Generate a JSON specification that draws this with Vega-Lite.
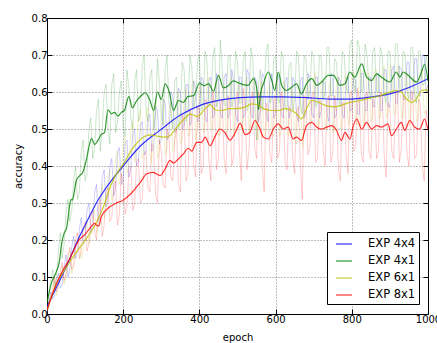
{
  "$schema": "https://vega.github.io/schema/vega-lite/v6.json",
  "width": 381,
  "height": 296,
  "autosize": {"type": "none"},
  "padding": {"left": 47, "top": 18, "right": 9, "bottom": 29},
  "background": "#ffffff",
  "config": {
    "font": "DejaVu Sans",
    "view": {"stroke": "#000000", "strokeWidth": 1}
  },
  "datasets": {
    "raw": [
      {"epoch":0,"EXP 4x4":0.0,"EXP 4x1":0.02,"EXP 6x1":0.0,"EXP 8x1":0.01},
      {"epoch":10,"EXP 4x4":0.06,"EXP 4x1":0.09,"EXP 6x1":0.05,"EXP 8x1":0.05},
      {"epoch":20,"EXP 4x4":0.05,"EXP 4x1":0.07,"EXP 6x1":0.09,"EXP 8x1":0.1},
      {"epoch":30,"EXP 4x4":0.11,"EXP 4x1":0.17,"EXP 6x1":0.07,"EXP 8x1":0.08},
      {"epoch":40,"EXP 4x4":0.08,"EXP 4x1":0.15,"EXP 6x1":0.13,"EXP 8x1":0.14},
      {"epoch":50,"EXP 4x4":0.16,"EXP 4x1":0.27,"EXP 6x1":0.1,"EXP 8x1":0.11},
      {"epoch":60,"EXP 4x4":0.12,"EXP 4x1":0.25,"EXP 6x1":0.17,"EXP 8x1":0.18},
      {"epoch":70,"EXP 4x4":0.21,"EXP 4x1":0.36,"EXP 6x1":0.13,"EXP 8x1":0.13},
      {"epoch":80,"EXP 4x4":0.17,"EXP 4x1":0.31,"EXP 6x1":0.2,"EXP 8x1":0.22},
      {"epoch":90,"EXP 4x4":0.26,"EXP 4x1":0.44,"EXP 6x1":0.15,"EXP 8x1":0.17},
      {"epoch":100,"EXP 4x4":0.2,"EXP 4x1":0.36,"EXP 6x1":0.23,"EXP 8x1":0.25},
      {"epoch":110,"EXP 4x4":0.3,"EXP 4x1":0.5,"EXP 6x1":0.19,"EXP 8x1":0.19},
      {"epoch":120,"EXP 4x4":0.24,"EXP 4x1":0.42,"EXP 6x1":0.27,"EXP 8x1":0.28},
      {"epoch":130,"EXP 4x4":0.35,"EXP 4x1":0.55,"EXP 6x1":0.22,"EXP 8x1":0.2},
      {"epoch":140,"EXP 4x4":0.27,"EXP 4x1":0.44,"EXP 6x1":0.32,"EXP 8x1":0.31},
      {"epoch":150,"EXP 4x4":0.39,"EXP 4x1":0.6,"EXP 6x1":0.26,"EXP 8x1":0.24},
      {"epoch":160,"EXP 4x4":0.31,"EXP 4x1":0.5,"EXP 6x1":0.37,"EXP 8x1":0.34},
      {"epoch":170,"EXP 4x4":0.42,"EXP 4x1":0.62,"EXP 6x1":0.31,"EXP 8x1":0.26},
      {"epoch":180,"EXP 4x4":0.34,"EXP 4x1":0.49,"EXP 6x1":0.42,"EXP 8x1":0.36},
      {"epoch":190,"EXP 4x4":0.45,"EXP 4x1":0.6,"EXP 6x1":0.35,"EXP 8x1":0.27},
      {"epoch":200,"EXP 4x4":0.36,"EXP 4x1":0.51,"EXP 6x1":0.46,"EXP 8x1":0.35},
      {"epoch":210,"EXP 4x4":0.47,"EXP 4x1":0.66,"EXP 6x1":0.38,"EXP 8x1":0.29},
      {"epoch":220,"EXP 4x4":0.39,"EXP 4x1":0.53,"EXP 6x1":0.5,"EXP 8x1":0.4},
      {"epoch":230,"EXP 4x4":0.5,"EXP 4x1":0.63,"EXP 6x1":0.41,"EXP 8x1":0.3},
      {"epoch":240,"EXP 4x4":0.41,"EXP 4x1":0.52,"EXP 6x1":0.53,"EXP 8x1":0.42},
      {"epoch":250,"EXP 4x4":0.52,"EXP 4x1":0.67,"EXP 6x1":0.42,"EXP 8x1":0.31},
      {"epoch":260,"EXP 4x4":0.44,"EXP 4x1":0.55,"EXP 6x1":0.54,"EXP 8x1":0.44},
      {"epoch":270,"EXP 4x4":0.54,"EXP 4x1":0.64,"EXP 6x1":0.43,"EXP 8x1":0.33},
      {"epoch":280,"EXP 4x4":0.45,"EXP 4x1":0.5,"EXP 6x1":0.55,"EXP 8x1":0.45},
      {"epoch":290,"EXP 4x4":0.55,"EXP 4x1":0.69,"EXP 6x1":0.42,"EXP 8x1":0.3},
      {"epoch":300,"EXP 4x4":0.47,"EXP 4x1":0.54,"EXP 6x1":0.54,"EXP 8x1":0.44},
      {"epoch":310,"EXP 4x4":0.57,"EXP 4x1":0.66,"EXP 6x1":0.43,"EXP 8x1":0.34},
      {"epoch":320,"EXP 4x4":0.48,"EXP 4x1":0.57,"EXP 6x1":0.55,"EXP 8x1":0.48},
      {"epoch":330,"EXP 4x4":0.59,"EXP 4x1":0.5,"EXP 6x1":0.44,"EXP 8x1":0.36},
      {"epoch":340,"EXP 4x4":0.5,"EXP 4x1":0.64,"EXP 6x1":0.58,"EXP 8x1":0.5},
      {"epoch":350,"EXP 4x4":0.6,"EXP 4x1":0.53,"EXP 6x1":0.46,"EXP 8x1":0.33},
      {"epoch":360,"EXP 4x4":0.51,"EXP 4x1":0.66,"EXP 6x1":0.6,"EXP 8x1":0.52},
      {"epoch":370,"EXP 4x4":0.62,"EXP 4x1":0.55,"EXP 6x1":0.48,"EXP 8x1":0.38},
      {"epoch":380,"EXP 4x4":0.52,"EXP 4x1":0.67,"EXP 6x1":0.62,"EXP 8x1":0.53},
      {"epoch":390,"EXP 4x4":0.61,"EXP 4x1":0.58,"EXP 6x1":0.47,"EXP 8x1":0.37},
      {"epoch":400,"EXP 4x4":0.53,"EXP 4x1":0.7,"EXP 6x1":0.61,"EXP 8x1":0.55},
      {"epoch":410,"EXP 4x4":0.63,"EXP 4x1":0.56,"EXP 6x1":0.49,"EXP 8x1":0.4},
      {"epoch":420,"EXP 4x4":0.52,"EXP 4x1":0.68,"EXP 6x1":0.63,"EXP 8x1":0.57},
      {"epoch":430,"EXP 4x4":0.64,"EXP 4x1":0.57,"EXP 6x1":0.5,"EXP 8x1":0.36},
      {"epoch":440,"EXP 4x4":0.54,"EXP 4x1":0.72,"EXP 6x1":0.62,"EXP 8x1":0.56},
      {"epoch":450,"EXP 4x4":0.63,"EXP 4x1":0.58,"EXP 6x1":0.48,"EXP 8x1":0.42},
      {"epoch":460,"EXP 4x4":0.53,"EXP 4x1":0.66,"EXP 6x1":0.61,"EXP 8x1":0.58},
      {"epoch":470,"EXP 4x4":0.65,"EXP 4x1":0.56,"EXP 6x1":0.49,"EXP 8x1":0.38},
      {"epoch":480,"EXP 4x4":0.54,"EXP 4x1":0.7,"EXP 6x1":0.63,"EXP 8x1":0.57},
      {"epoch":490,"EXP 4x4":0.63,"EXP 4x1":0.58,"EXP 6x1":0.48,"EXP 8x1":0.43},
      {"epoch":500,"EXP 4x4":0.52,"EXP 4x1":0.68,"EXP 6x1":0.62,"EXP 8x1":0.6},
      {"epoch":510,"EXP 4x4":0.64,"EXP 4x1":0.57,"EXP 6x1":0.5,"EXP 8x1":0.36},
      {"epoch":520,"EXP 4x4":0.54,"EXP 4x1":0.71,"EXP 6x1":0.63,"EXP 8x1":0.57},
      {"epoch":530,"EXP 4x4":0.65,"EXP 4x1":0.56,"EXP 6x1":0.49,"EXP 8x1":0.44},
      {"epoch":540,"EXP 4x4":0.53,"EXP 4x1":0.69,"EXP 6x1":0.64,"EXP 8x1":0.6},
      {"epoch":550,"EXP 4x4":0.63,"EXP 4x1":0.47,"EXP 6x1":0.5,"EXP 8x1":0.42},
      {"epoch":560,"EXP 4x4":0.55,"EXP 4x1":0.66,"EXP 6x1":0.62,"EXP 8x1":0.58},
      {"epoch":570,"EXP 4x4":0.64,"EXP 4x1":0.6,"EXP 6x1":0.48,"EXP 8x1":0.33},
      {"epoch":580,"EXP 4x4":0.52,"EXP 4x1":0.73,"EXP 6x1":0.61,"EXP 8x1":0.56},
      {"epoch":590,"EXP 4x4":0.65,"EXP 4x1":0.58,"EXP 6x1":0.49,"EXP 8x1":0.41},
      {"epoch":600,"EXP 4x4":0.54,"EXP 4x1":0.7,"EXP 6x1":0.62,"EXP 8x1":0.59},
      {"epoch":610,"EXP 4x4":0.63,"EXP 4x1":0.57,"EXP 6x1":0.48,"EXP 8x1":0.44},
      {"epoch":620,"EXP 4x4":0.53,"EXP 4x1":0.69,"EXP 6x1":0.63,"EXP 8x1":0.57},
      {"epoch":630,"EXP 4x4":0.64,"EXP 4x1":0.55,"EXP 6x1":0.49,"EXP 8x1":0.39},
      {"epoch":640,"EXP 4x4":0.55,"EXP 4x1":0.68,"EXP 6x1":0.61,"EXP 8x1":0.55},
      {"epoch":650,"EXP 4x4":0.63,"EXP 4x1":0.58,"EXP 6x1":0.47,"EXP 8x1":0.38},
      {"epoch":660,"EXP 4x4":0.52,"EXP 4x1":0.7,"EXP 6x1":0.6,"EXP 8x1":0.56},
      {"epoch":670,"EXP 4x4":0.64,"EXP 4x1":0.54,"EXP 6x1":0.45,"EXP 8x1":0.31},
      {"epoch":680,"EXP 4x4":0.54,"EXP 4x1":0.69,"EXP 6x1":0.62,"EXP 8x1":0.58},
      {"epoch":690,"EXP 4x4":0.63,"EXP 4x1":0.6,"EXP 6x1":0.51,"EXP 8x1":0.45},
      {"epoch":700,"EXP 4x4":0.53,"EXP 4x1":0.7,"EXP 6x1":0.64,"EXP 8x1":0.6},
      {"epoch":710,"EXP 4x4":0.64,"EXP 4x1":0.57,"EXP 6x1":0.5,"EXP 8x1":0.42},
      {"epoch":720,"EXP 4x4":0.55,"EXP 4x1":0.69,"EXP 6x1":0.63,"EXP 8x1":0.57},
      {"epoch":730,"EXP 4x4":0.62,"EXP 4x1":0.6,"EXP 6x1":0.5,"EXP 8x1":0.4},
      {"epoch":740,"EXP 4x4":0.52,"EXP 4x1":0.72,"EXP 6x1":0.62,"EXP 8x1":0.59},
      {"epoch":750,"EXP 4x4":0.64,"EXP 4x1":0.59,"EXP 6x1":0.49,"EXP 8x1":0.43},
      {"epoch":760,"EXP 4x4":0.54,"EXP 4x1":0.68,"EXP 6x1":0.63,"EXP 8x1":0.55},
      {"epoch":770,"EXP 4x4":0.63,"EXP 4x1":0.56,"EXP 6x1":0.5,"EXP 8x1":0.36},
      {"epoch":780,"EXP 4x4":0.53,"EXP 4x1":0.7,"EXP 6x1":0.64,"EXP 8x1":0.57},
      {"epoch":790,"EXP 4x4":0.64,"EXP 4x1":0.6,"EXP 6x1":0.51,"EXP 8x1":0.38},
      {"epoch":800,"EXP 4x4":0.55,"EXP 4x1":0.74,"EXP 6x1":0.64,"EXP 8x1":0.6},
      {"epoch":810,"EXP 4x4":0.63,"EXP 4x1":0.6,"EXP 6x1":0.52,"EXP 8x1":0.45},
      {"epoch":820,"EXP 4x4":0.54,"EXP 4x1":0.72,"EXP 6x1":0.65,"EXP 8x1":0.58},
      {"epoch":830,"EXP 4x4":0.65,"EXP 4x1":0.61,"EXP 6x1":0.51,"EXP 8x1":0.41},
      {"epoch":840,"EXP 4x4":0.55,"EXP 4x1":0.7,"EXP 6x1":0.65,"EXP 8x1":0.6},
      {"epoch":850,"EXP 4x4":0.64,"EXP 4x1":0.58,"EXP 6x1":0.52,"EXP 8x1":0.42},
      {"epoch":860,"EXP 4x4":0.56,"EXP 4x1":0.72,"EXP 6x1":0.66,"EXP 8x1":0.57},
      {"epoch":870,"EXP 4x4":0.65,"EXP 4x1":0.6,"EXP 6x1":0.53,"EXP 8x1":0.44},
      {"epoch":880,"EXP 4x4":0.55,"EXP 4x1":0.7,"EXP 6x1":0.66,"EXP 8x1":0.59},
      {"epoch":890,"EXP 4x4":0.66,"EXP 4x1":0.57,"EXP 6x1":0.53,"EXP 8x1":0.37},
      {"epoch":900,"EXP 4x4":0.56,"EXP 4x1":0.71,"EXP 6x1":0.67,"EXP 8x1":0.56},
      {"epoch":910,"EXP 4x4":0.67,"EXP 4x1":0.6,"EXP 6x1":0.54,"EXP 8x1":0.42},
      {"epoch":920,"EXP 4x4":0.57,"EXP 4x1":0.73,"EXP 6x1":0.67,"EXP 8x1":0.6},
      {"epoch":930,"EXP 4x4":0.66,"EXP 4x1":0.6,"EXP 6x1":0.53,"EXP 8x1":0.45},
      {"epoch":940,"EXP 4x4":0.58,"EXP 4x1":0.7,"EXP 6x1":0.65,"EXP 8x1":0.58},
      {"epoch":950,"EXP 4x4":0.68,"EXP 4x1":0.58,"EXP 6x1":0.51,"EXP 8x1":0.4},
      {"epoch":960,"EXP 4x4":0.58,"EXP 4x1":0.72,"EXP 6x1":0.64,"EXP 8x1":0.6},
      {"epoch":970,"EXP 4x4":0.69,"EXP 4x1":0.57,"EXP 6x1":0.52,"EXP 8x1":0.43},
      {"epoch":980,"EXP 4x4":0.59,"EXP 4x1":0.71,"EXP 6x1":0.66,"EXP 8x1":0.57},
      {"epoch":990,"EXP 4x4":0.7,"EXP 4x1":0.62,"EXP 6x1":0.54,"EXP 8x1":0.36},
      {"epoch":1000,"EXP 4x4":0.62,"EXP 4x1":0.66,"EXP 6x1":0.63,"EXP 8x1":0.52},
      {"epoch":5,"EXP 4x4":0.03,"EXP 4x1":0.05,"EXP 6x1":0.03,"EXP 8x1":0.03},
      {"epoch":15,"EXP 4x4":0.04,"EXP 4x1":0.12,"EXP 6x1":0.06,"EXP 8x1":0.07},
      {"epoch":25,"EXP 4x4":0.09,"EXP 4x1":0.1,"EXP 6x1":0.05,"EXP 8x1":0.06},
      {"epoch":35,"EXP 4x4":0.07,"EXP 4x1":0.22,"EXP 6x1":0.11,"EXP 8x1":0.12},
      {"epoch":45,"EXP 4x4":0.13,"EXP 4x1":0.19,"EXP 6x1":0.08,"EXP 8x1":0.09},
      {"epoch":55,"EXP 4x4":0.1,"EXP 4x1":0.31,"EXP 6x1":0.15,"EXP 8x1":0.16},
      {"epoch":65,"EXP 4x4":0.18,"EXP 4x1":0.28,"EXP 6x1":0.11,"EXP 8x1":0.12},
      {"epoch":75,"EXP 4x4":0.15,"EXP 4x1":0.4,"EXP 6x1":0.18,"EXP 8x1":0.2},
      {"epoch":85,"EXP 4x4":0.23,"EXP 4x1":0.33,"EXP 6x1":0.21,"EXP 8x1":0.15},
      {"epoch":95,"EXP 4x4":0.19,"EXP 4x1":0.47,"EXP 6x1":0.17,"EXP 8x1":0.23},
      {"epoch":105,"EXP 4x4":0.28,"EXP 4x1":0.38,"EXP 6x1":0.25,"EXP 8x1":0.17},
      {"epoch":115,"EXP 4x4":0.22,"EXP 4x1":0.53,"EXP 6x1":0.21,"EXP 8x1":0.26},
      {"epoch":125,"EXP 4x4":0.33,"EXP 4x1":0.45,"EXP 6x1":0.28,"EXP 8x1":0.22},
      {"epoch":135,"EXP 4x4":0.25,"EXP 4x1":0.58,"EXP 6x1":0.24,"EXP 8x1":0.29},
      {"epoch":145,"EXP 4x4":0.37,"EXP 4x1":0.5,"EXP 6x1":0.35,"EXP 8x1":0.21},
      {"epoch":155,"EXP 4x4":0.29,"EXP 4x1":0.62,"EXP 6x1":0.29,"EXP 8x1":0.33},
      {"epoch":165,"EXP 4x4":0.4,"EXP 4x1":0.46,"EXP 6x1":0.39,"EXP 8x1":0.25},
      {"epoch":175,"EXP 4x4":0.32,"EXP 4x1":0.65,"EXP 6x1":0.33,"EXP 8x1":0.34},
      {"epoch":185,"EXP 4x4":0.44,"EXP 4x1":0.52,"EXP 6x1":0.44,"EXP 8x1":0.24},
      {"epoch":195,"EXP 4x4":0.35,"EXP 4x1":0.63,"EXP 6x1":0.37,"EXP 8x1":0.38},
      {"epoch":205,"EXP 4x4":0.46,"EXP 4x1":0.48,"EXP 6x1":0.48,"EXP 8x1":0.27},
      {"epoch":215,"EXP 4x4":0.37,"EXP 4x1":0.61,"EXP 6x1":0.4,"EXP 8x1":0.39},
      {"epoch":225,"EXP 4x4":0.49,"EXP 4x1":0.5,"EXP 6x1":0.52,"EXP 8x1":0.28},
      {"epoch":235,"EXP 4x4":0.4,"EXP 4x1":0.66,"EXP 6x1":0.43,"EXP 8x1":0.41},
      {"epoch":245,"EXP 4x4":0.51,"EXP 4x1":0.54,"EXP 6x1":0.55,"EXP 8x1":0.3},
      {"epoch":255,"EXP 4x4":0.43,"EXP 4x1":0.7,"EXP 6x1":0.44,"EXP 8x1":0.43},
      {"epoch":265,"EXP 4x4":0.53,"EXP 4x1":0.52,"EXP 6x1":0.56,"EXP 8x1":0.34},
      {"epoch":275,"EXP 4x4":0.44,"EXP 4x1":0.66,"EXP 6x1":0.41,"EXP 8x1":0.46},
      {"epoch":285,"EXP 4x4":0.56,"EXP 4x1":0.55,"EXP 6x1":0.57,"EXP 8x1":0.32},
      {"epoch":295,"EXP 4x4":0.46,"EXP 4x1":0.62,"EXP 6x1":0.44,"EXP 8x1":0.47},
      {"epoch":305,"EXP 4x4":0.58,"EXP 4x1":0.51,"EXP 6x1":0.58,"EXP 8x1":0.35},
      {"epoch":315,"EXP 4x4":0.47,"EXP 4x1":0.7,"EXP 6x1":0.45,"EXP 8x1":0.5},
      {"epoch":325,"EXP 4x4":0.6,"EXP 4x1":0.55,"EXP 6x1":0.57,"EXP 8x1":0.37},
      {"epoch":335,"EXP 4x4":0.49,"EXP 4x1":0.63,"EXP 6x1":0.46,"EXP 8x1":0.47},
      {"epoch":345,"EXP 4x4":0.61,"EXP 4x1":0.5,"EXP 6x1":0.6,"EXP 8x1":0.35},
      {"epoch":355,"EXP 4x4":0.5,"EXP 4x1":0.68,"EXP 6x1":0.47,"EXP 8x1":0.54},
      {"epoch":365,"EXP 4x4":0.62,"EXP 4x1":0.52,"EXP 6x1":0.61,"EXP 8x1":0.36},
      {"epoch":375,"EXP 4x4":0.51,"EXP 4x1":0.7,"EXP 6x1":0.49,"EXP 8x1":0.55},
      {"epoch":385,"EXP 4x4":0.63,"EXP 4x1":0.56,"EXP 6x1":0.63,"EXP 8x1":0.4},
      {"epoch":395,"EXP 4x4":0.52,"EXP 4x1":0.68,"EXP 6x1":0.5,"EXP 8x1":0.56},
      {"epoch":405,"EXP 4x4":0.64,"EXP 4x1":0.55,"EXP 6x1":0.62,"EXP 8x1":0.38},
      {"epoch":415,"EXP 4x4":0.53,"EXP 4x1":0.71,"EXP 6x1":0.51,"EXP 8x1":0.58},
      {"epoch":425,"EXP 4x4":0.63,"EXP 4x1":0.56,"EXP 6x1":0.64,"EXP 8x1":0.41},
      {"epoch":435,"EXP 4x4":0.53,"EXP 4x1":0.69,"EXP 6x1":0.5,"EXP 8x1":0.6},
      {"epoch":445,"EXP 4x4":0.65,"EXP 4x1":0.56,"EXP 6x1":0.63,"EXP 8x1":0.39},
      {"epoch":455,"EXP 4x4":0.54,"EXP 4x1":0.74,"EXP 6x1":0.49,"EXP 8x1":0.57},
      {"epoch":465,"EXP 4x4":0.64,"EXP 4x1":0.57,"EXP 6x1":0.62,"EXP 8x1":0.42},
      {"epoch":475,"EXP 4x4":0.53,"EXP 4x1":0.69,"EXP 6x1":0.5,"EXP 8x1":0.59},
      {"epoch":485,"EXP 4x4":0.66,"EXP 4x1":0.56,"EXP 6x1":0.64,"EXP 8x1":0.4},
      {"epoch":495,"EXP 4x4":0.54,"EXP 4x1":0.71,"EXP 6x1":0.49,"EXP 8x1":0.58},
      {"epoch":505,"EXP 4x4":0.64,"EXP 4x1":0.57,"EXP 6x1":0.63,"EXP 8x1":0.44},
      {"epoch":515,"EXP 4x4":0.53,"EXP 4x1":0.68,"EXP 6x1":0.5,"EXP 8x1":0.61},
      {"epoch":525,"EXP 4x4":0.66,"EXP 4x1":0.55,"EXP 6x1":0.64,"EXP 8x1":0.39},
      {"epoch":535,"EXP 4x4":0.54,"EXP 4x1":0.72,"EXP 6x1":0.5,"EXP 8x1":0.58},
      {"epoch":545,"EXP 4x4":0.64,"EXP 4x1":0.57,"EXP 6x1":0.63,"EXP 8x1":0.45},
      {"epoch":555,"EXP 4x4":0.52,"EXP 4x1":0.62,"EXP 6x1":0.47,"EXP 8x1":0.6},
      {"epoch":565,"EXP 4x4":0.65,"EXP 4x1":0.55,"EXP 6x1":0.63,"EXP 8x1":0.4},
      {"epoch":575,"EXP 4x4":0.54,"EXP 4x1":0.71,"EXP 6x1":0.49,"EXP 8x1":0.57},
      {"epoch":585,"EXP 4x4":0.63,"EXP 4x1":0.57,"EXP 6x1":0.62,"EXP 8x1":0.43},
      {"epoch":595,"EXP 4x4":0.53,"EXP 4x1":0.69,"EXP 6x1":0.48,"EXP 8x1":0.58},
      {"epoch":605,"EXP 4x4":0.65,"EXP 4x1":0.58,"EXP 6x1":0.64,"EXP 8x1":0.42},
      {"epoch":615,"EXP 4x4":0.54,"EXP 4x1":0.71,"EXP 6x1":0.49,"EXP 8x1":0.6},
      {"epoch":625,"EXP 4x4":0.63,"EXP 4x1":0.56,"EXP 6x1":0.62,"EXP 8x1":0.41},
      {"epoch":635,"EXP 4x4":0.53,"EXP 4x1":0.67,"EXP 6x1":0.48,"EXP 8x1":0.56},
      {"epoch":645,"EXP 4x4":0.64,"EXP 4x1":0.55,"EXP 6x1":0.6,"EXP 8x1":0.42},
      {"epoch":655,"EXP 4x4":0.54,"EXP 4x1":0.71,"EXP 6x1":0.46,"EXP 8x1":0.55},
      {"epoch":665,"EXP 4x4":0.63,"EXP 4x1":0.57,"EXP 6x1":0.59,"EXP 8x1":0.4},
      {"epoch":675,"EXP 4x4":0.53,"EXP 4x1":0.7,"EXP 6x1":0.5,"EXP 8x1":0.59},
      {"epoch":685,"EXP 4x4":0.65,"EXP 4x1":0.58,"EXP 6x1":0.64,"EXP 8x1":0.43},
      {"epoch":695,"EXP 4x4":0.54,"EXP 4x1":0.71,"EXP 6x1":0.52,"EXP 8x1":0.59},
      {"epoch":705,"EXP 4x4":0.64,"EXP 4x1":0.56,"EXP 6x1":0.65,"EXP 8x1":0.41},
      {"epoch":715,"EXP 4x4":0.53,"EXP 4x1":0.7,"EXP 6x1":0.51,"EXP 8x1":0.58},
      {"epoch":725,"EXP 4x4":0.63,"EXP 4x1":0.58,"EXP 6x1":0.63,"EXP 8x1":0.44},
      {"epoch":735,"EXP 4x4":0.54,"EXP 4x1":0.72,"EXP 6x1":0.5,"EXP 8x1":0.58},
      {"epoch":745,"EXP 4x4":0.65,"EXP 4x1":0.59,"EXP 6x1":0.63,"EXP 8x1":0.41},
      {"epoch":755,"EXP 4x4":0.53,"EXP 4x1":0.69,"EXP 6x1":0.5,"EXP 8x1":0.59},
      {"epoch":765,"EXP 4x4":0.64,"EXP 4x1":0.58,"EXP 6x1":0.64,"EXP 8x1":0.39},
      {"epoch":775,"EXP 4x4":0.54,"EXP 4x1":0.71,"EXP 6x1":0.51,"EXP 8x1":0.57},
      {"epoch":785,"EXP 4x4":0.63,"EXP 4x1":0.61,"EXP 6x1":0.64,"EXP 8x1":0.43},
      {"epoch":795,"EXP 4x4":0.55,"EXP 4x1":0.73,"EXP 6x1":0.52,"EXP 8x1":0.6},
      {"epoch":805,"EXP 4x4":0.64,"EXP 4x1":0.62,"EXP 6x1":0.65,"EXP 8x1":0.44},
      {"epoch":815,"EXP 4x4":0.54,"EXP 4x1":0.74,"EXP 6x1":0.51,"EXP 8x1":0.61},
      {"epoch":825,"EXP 4x4":0.65,"EXP 4x1":0.6,"EXP 6x1":0.66,"EXP 8x1":0.43},
      {"epoch":835,"EXP 4x4":0.55,"EXP 4x1":0.73,"EXP 6x1":0.52,"EXP 8x1":0.59},
      {"epoch":845,"EXP 4x4":0.64,"EXP 4x1":0.61,"EXP 6x1":0.65,"EXP 8x1":0.44},
      {"epoch":855,"EXP 4x4":0.56,"EXP 4x1":0.71,"EXP 6x1":0.53,"EXP 8x1":0.58},
      {"epoch":865,"EXP 4x4":0.65,"EXP 4x1":0.6,"EXP 6x1":0.66,"EXP 8x1":0.42},
      {"epoch":875,"EXP 4x4":0.55,"EXP 4x1":0.72,"EXP 6x1":0.53,"EXP 8x1":0.6},
      {"epoch":885,"EXP 4x4":0.66,"EXP 4x1":0.59,"EXP 6x1":0.67,"EXP 8x1":0.43},
      {"epoch":895,"EXP 4x4":0.56,"EXP 4x1":0.71,"EXP 6x1":0.54,"EXP 8x1":0.57},
      {"epoch":905,"EXP 4x4":0.66,"EXP 4x1":0.6,"EXP 6x1":0.67,"EXP 8x1":0.44},
      {"epoch":915,"EXP 4x4":0.57,"EXP 4x1":0.73,"EXP 6x1":0.54,"EXP 8x1":0.6},
      {"epoch":925,"EXP 4x4":0.67,"EXP 4x1":0.61,"EXP 6x1":0.66,"EXP 8x1":0.41},
      {"epoch":935,"EXP 4x4":0.58,"EXP 4x1":0.71,"EXP 6x1":0.53,"EXP 8x1":0.59},
      {"epoch":945,"EXP 4x4":0.68,"EXP 4x1":0.6,"EXP 6x1":0.65,"EXP 8x1":0.43},
      {"epoch":955,"EXP 4x4":0.58,"EXP 4x1":0.72,"EXP 6x1":0.52,"EXP 8x1":0.6},
      {"epoch":965,"EXP 4x4":0.69,"EXP 4x1":0.59,"EXP 6x1":0.64,"EXP 8x1":0.42},
      {"epoch":975,"EXP 4x4":0.59,"EXP 4x1":0.71,"EXP 6x1":0.53,"EXP 8x1":0.58},
      {"epoch":985,"EXP 4x4":0.7,"EXP 4x1":0.62,"EXP 6x1":0.66,"EXP 8x1":0.4},
      {"epoch":995,"EXP 4x4":0.6,"EXP 4x1":0.7,"EXP 6x1":0.55,"EXP 8x1":0.55}
    ],
    "smooth": [
      {"s":"EXP 4x4","e":0,"v":0.02},{"s":"EXP 4x4","e":20,"v":0.062},{"s":"EXP 4x4","e":38,"v":0.1},
      {"s":"EXP 4x4","e":60,"v":0.15},{"s":"EXP 4x4","e":81,"v":0.2},{"s":"EXP 4x4","e":100,"v":0.24},
      {"s":"EXP 4x4","e":133,"v":0.306},{"s":"EXP 4x4","e":165,"v":0.355},{"s":"EXP 4x4","e":200,"v":0.4},
      {"s":"EXP 4x4","e":245,"v":0.454},{"s":"EXP 4x4","e":297,"v":0.497},{"s":"EXP 4x4","e":349,"v":0.537},
      {"s":"EXP 4x4","e":402,"v":0.564},{"s":"EXP 4x4","e":454,"v":0.578},{"s":"EXP 4x4","e":507,"v":0.585},
      {"s":"EXP 4x4","e":560,"v":0.587},{"s":"EXP 4x4","e":620,"v":0.587},{"s":"EXP 4x4","e":680,"v":0.585},
      {"s":"EXP 4x4","e":742,"v":0.581},{"s":"EXP 4x4","e":795,"v":0.581},{"s":"EXP 4x4","e":848,"v":0.586},
      {"s":"EXP 4x4","e":900,"v":0.595},{"s":"EXP 4x4","e":952,"v":0.613},{"s":"EXP 4x4","e":1000,"v":0.636},

      {"s":"EXP 4x1","e":0,"v":0.03},{"s":"EXP 4x1","e":11,"v":0.082},{"s":"EXP 4x1","e":24,"v":0.113},
      {"s":"EXP 4x1","e":33,"v":0.145},{"s":"EXP 4x1","e":37,"v":0.18},{"s":"EXP 4x1","e":42,"v":0.208},
      {"s":"EXP 4x1","e":46,"v":0.221},{"s":"EXP 4x1","e":51,"v":0.23},{"s":"EXP 4x1","e":55,"v":0.257},
      {"s":"EXP 4x1","e":59,"v":0.29},{"s":"EXP 4x1","e":63,"v":0.31},{"s":"EXP 4x1","e":67,"v":0.308},
      {"s":"EXP 4x1","e":70,"v":0.32},{"s":"EXP 4x1","e":77,"v":0.361},{"s":"EXP 4x1","e":86,"v":0.374},
      {"s":"EXP 4x1","e":94,"v":0.383},{"s":"EXP 4x1","e":103,"v":0.415},{"s":"EXP 4x1","e":112,"v":0.46},
      {"s":"EXP 4x1","e":117,"v":0.475},{"s":"EXP 4x1","e":125,"v":0.458},{"s":"EXP 4x1","e":134,"v":0.47},
      {"s":"EXP 4x1","e":142,"v":0.485},{"s":"EXP 4x1","e":151,"v":0.49},{"s":"EXP 4x1","e":160,"v":0.552},
      {"s":"EXP 4x1","e":169,"v":0.541},{"s":"EXP 4x1","e":177,"v":0.545},{"s":"EXP 4x1","e":186,"v":0.535},
      {"s":"EXP 4x1","e":195,"v":0.545},{"s":"EXP 4x1","e":203,"v":0.55},{"s":"EXP 4x1","e":215,"v":0.588},
      {"s":"EXP 4x1","e":224,"v":0.557},{"s":"EXP 4x1","e":234,"v":0.574},{"s":"EXP 4x1","e":247,"v":0.59},
      {"s":"EXP 4x1","e":258,"v":0.598},{"s":"EXP 4x1","e":270,"v":0.578},{"s":"EXP 4x1","e":280,"v":0.55},
      {"s":"EXP 4x1","e":290,"v":0.6},{"s":"EXP 4x1","e":300,"v":0.58},{"s":"EXP 4x1","e":310,"v":0.622},
      {"s":"EXP 4x1","e":321,"v":0.6},{"s":"EXP 4x1","e":332,"v":0.55},{"s":"EXP 4x1","e":345,"v":0.577},
      {"s":"EXP 4x1","e":358,"v":0.572},{"s":"EXP 4x1","e":370,"v":0.588},{"s":"EXP 4x1","e":385,"v":0.59},
      {"s":"EXP 4x1","e":400,"v":0.624},{"s":"EXP 4x1","e":412,"v":0.617},{"s":"EXP 4x1","e":424,"v":0.622},
      {"s":"EXP 4x1","e":437,"v":0.602},{"s":"EXP 4x1","e":450,"v":0.645},{"s":"EXP 4x1","e":463,"v":0.611},
      {"s":"EXP 4x1","e":476,"v":0.617},{"s":"EXP 4x1","e":489,"v":0.63},{"s":"EXP 4x1","e":502,"v":0.625},
      {"s":"EXP 4x1","e":515,"v":0.62},{"s":"EXP 4x1","e":528,"v":0.618},{"s":"EXP 4x1","e":542,"v":0.636},
      {"s":"EXP 4x1","e":550,"v":0.613},{"s":"EXP 4x1","e":555,"v":0.552},{"s":"EXP 4x1","e":561,"v":0.6},
      {"s":"EXP 4x1","e":568,"v":0.622},{"s":"EXP 4x1","e":581,"v":0.654},{"s":"EXP 4x1","e":590,"v":0.631},
      {"s":"EXP 4x1","e":598,"v":0.604},{"s":"EXP 4x1","e":607,"v":0.654},{"s":"EXP 4x1","e":616,"v":0.618},
      {"s":"EXP 4x1","e":629,"v":0.604},{"s":"EXP 4x1","e":642,"v":0.613},{"s":"EXP 4x1","e":655,"v":0.622},
      {"s":"EXP 4x1","e":668,"v":0.595},{"s":"EXP 4x1","e":681,"v":0.622},{"s":"EXP 4x1","e":695,"v":0.636},
      {"s":"EXP 4x1","e":708,"v":0.618},{"s":"EXP 4x1","e":721,"v":0.627},{"s":"EXP 4x1","e":738,"v":0.645},
      {"s":"EXP 4x1","e":752,"v":0.645},{"s":"EXP 4x1","e":769,"v":0.618},{"s":"EXP 4x1","e":782,"v":0.622},
      {"s":"EXP 4x1","e":795,"v":0.654},{"s":"EXP 4x1","e":808,"v":0.64},{"s":"EXP 4x1","e":826,"v":0.676},
      {"s":"EXP 4x1","e":839,"v":0.64},{"s":"EXP 4x1","e":852,"v":0.631},{"s":"EXP 4x1","e":865,"v":0.649},
      {"s":"EXP 4x1","e":878,"v":0.64},{"s":"EXP 4x1","e":900,"v":0.627},{"s":"EXP 4x1","e":917,"v":0.654},
      {"s":"EXP 4x1","e":926,"v":0.64},{"s":"EXP 4x1","e":935,"v":0.654},{"s":"EXP 4x1","e":948,"v":0.645},
      {"s":"EXP 4x1","e":970,"v":0.627},{"s":"EXP 4x1","e":983,"v":0.654},{"s":"EXP 4x1","e":991,"v":0.675},
      {"s":"EXP 4x1","e":1000,"v":0.63},

      {"s":"EXP 6x1","e":0,"v":0.01},{"s":"EXP 6x1","e":24,"v":0.08},{"s":"EXP 6x1","e":51,"v":0.126},
      {"s":"EXP 6x1","e":77,"v":0.167},{"s":"EXP 6x1","e":103,"v":0.203},{"s":"EXP 6x1","e":130,"v":0.248},
      {"s":"EXP 6x1","e":150,"v":0.295},{"s":"EXP 6x1","e":166,"v":0.344},{"s":"EXP 6x1","e":188,"v":0.388},
      {"s":"EXP 6x1","e":200,"v":0.405},{"s":"EXP 6x1","e":227,"v":0.451},{"s":"EXP 6x1","e":253,"v":0.478},
      {"s":"EXP 6x1","e":271,"v":0.484},{"s":"EXP 6x1","e":293,"v":0.48},{"s":"EXP 6x1","e":310,"v":0.478},
      {"s":"EXP 6x1","e":325,"v":0.484},{"s":"EXP 6x1","e":341,"v":0.505},{"s":"EXP 6x1","e":358,"v":0.525},
      {"s":"EXP 6x1","e":376,"v":0.54},{"s":"EXP 6x1","e":395,"v":0.534},{"s":"EXP 6x1","e":415,"v":0.555},
      {"s":"EXP 6x1","e":428,"v":0.566},{"s":"EXP 6x1","e":441,"v":0.552},{"s":"EXP 6x1","e":459,"v":0.55},
      {"s":"EXP 6x1","e":476,"v":0.555},{"s":"EXP 6x1","e":494,"v":0.555},{"s":"EXP 6x1","e":520,"v":0.559},
      {"s":"EXP 6x1","e":537,"v":0.568},{"s":"EXP 6x1","e":555,"v":0.564},{"s":"EXP 6x1","e":568,"v":0.555},
      {"s":"EXP 6x1","e":590,"v":0.55},{"s":"EXP 6x1","e":607,"v":0.55},{"s":"EXP 6x1","e":625,"v":0.555},
      {"s":"EXP 6x1","e":642,"v":0.55},{"s":"EXP 6x1","e":655,"v":0.541},{"s":"EXP 6x1","e":668,"v":0.527},
      {"s":"EXP 6x1","e":681,"v":0.555},{"s":"EXP 6x1","e":695,"v":0.577},{"s":"EXP 6x1","e":712,"v":0.572},
      {"s":"EXP 6x1","e":730,"v":0.564},{"s":"EXP 6x1","e":756,"v":0.56},{"s":"EXP 6x1","e":795,"v":0.572},
      {"s":"EXP 6x1","e":821,"v":0.577},{"s":"EXP 6x1","e":848,"v":0.584},{"s":"EXP 6x1","e":874,"v":0.59},
      {"s":"EXP 6x1","e":900,"v":0.6},{"s":"EXP 6x1","e":917,"v":0.604},{"s":"EXP 6x1","e":930,"v":0.6},
      {"s":"EXP 6x1","e":943,"v":0.582},{"s":"EXP 6x1","e":957,"v":0.572},{"s":"EXP 6x1","e":970,"v":0.582},
      {"s":"EXP 6x1","e":983,"v":0.604},{"s":"EXP 6x1","e":996,"v":0.606},{"s":"EXP 6x1","e":1000,"v":0.6},

      {"s":"EXP 8x1","e":0,"v":0.01},{"s":"EXP 8x1","e":20,"v":0.07},{"s":"EXP 8x1","e":40,"v":0.115},
      {"s":"EXP 8x1","e":60,"v":0.15},{"s":"EXP 8x1","e":84,"v":0.2},{"s":"EXP 8x1","e":100,"v":0.215},
      {"s":"EXP 8x1","e":115,"v":0.235},{"s":"EXP 8x1","e":125,"v":0.245},{"s":"EXP 8x1","e":130,"v":0.24},
      {"s":"EXP 8x1","e":136,"v":0.238},{"s":"EXP 8x1","e":142,"v":0.262},{"s":"EXP 8x1","e":164,"v":0.289},
      {"s":"EXP 8x1","e":182,"v":0.3},{"s":"EXP 8x1","e":199,"v":0.307},{"s":"EXP 8x1","e":220,"v":0.325},
      {"s":"EXP 8x1","e":245,"v":0.356},{"s":"EXP 8x1","e":262,"v":0.379},{"s":"EXP 8x1","e":279,"v":0.383},
      {"s":"EXP 8x1","e":297,"v":0.374},{"s":"EXP 8x1","e":310,"v":0.392},{"s":"EXP 8x1","e":323,"v":0.415},
      {"s":"EXP 8x1","e":332,"v":0.408},{"s":"EXP 8x1","e":345,"v":0.419},{"s":"EXP 8x1","e":358,"v":0.433},
      {"s":"EXP 8x1","e":371,"v":0.448},{"s":"EXP 8x1","e":380,"v":0.44},{"s":"EXP 8x1","e":393,"v":0.464},
      {"s":"EXP 8x1","e":406,"v":0.464},{"s":"EXP 8x1","e":415,"v":0.478},{"s":"EXP 8x1","e":428,"v":0.455},
      {"s":"EXP 8x1","e":441,"v":0.48},{"s":"EXP 8x1","e":454,"v":0.5},{"s":"EXP 8x1","e":467,"v":0.49},
      {"s":"EXP 8x1","e":480,"v":0.47},{"s":"EXP 8x1","e":494,"v":0.49},{"s":"EXP 8x1","e":507,"v":0.515},
      {"s":"EXP 8x1","e":520,"v":0.485},{"s":"EXP 8x1","e":532,"v":0.49},{"s":"EXP 8x1","e":546,"v":0.523},
      {"s":"EXP 8x1","e":559,"v":0.5},{"s":"EXP 8x1","e":568,"v":0.478},{"s":"EXP 8x1","e":581,"v":0.473},
      {"s":"EXP 8x1","e":594,"v":0.5},{"s":"EXP 8x1","e":607,"v":0.514},{"s":"EXP 8x1","e":620,"v":0.5},
      {"s":"EXP 8x1","e":633,"v":0.505},{"s":"EXP 8x1","e":646,"v":0.473},{"s":"EXP 8x1","e":655,"v":0.478},
      {"s":"EXP 8x1","e":668,"v":0.469},{"s":"EXP 8x1","e":681,"v":0.509},{"s":"EXP 8x1","e":695,"v":0.518},
      {"s":"EXP 8x1","e":708,"v":0.505},{"s":"EXP 8x1","e":721,"v":0.5},{"s":"EXP 8x1","e":734,"v":0.505},
      {"s":"EXP 8x1","e":747,"v":0.509},{"s":"EXP 8x1","e":760,"v":0.496},{"s":"EXP 8x1","e":773,"v":0.469},
      {"s":"EXP 8x1","e":782,"v":0.491},{"s":"EXP 8x1","e":795,"v":0.473},{"s":"EXP 8x1","e":804,"v":0.509},
      {"s":"EXP 8x1","e":813,"v":0.527},{"s":"EXP 8x1","e":826,"v":0.5},{"s":"EXP 8x1","e":839,"v":0.518},
      {"s":"EXP 8x1","e":852,"v":0.5},{"s":"EXP 8x1","e":865,"v":0.509},{"s":"EXP 8x1","e":878,"v":0.505},
      {"s":"EXP 8x1","e":895,"v":0.514},{"s":"EXP 8x1","e":904,"v":0.482},{"s":"EXP 8x1","e":917,"v":0.5},
      {"s":"EXP 8x1","e":930,"v":0.518},{"s":"EXP 8x1","e":939,"v":0.496},{"s":"EXP 8x1","e":952,"v":0.523},
      {"s":"EXP 8x1","e":965,"v":0.505},{"s":"EXP 8x1","e":978,"v":0.5},{"s":"EXP 8x1","e":991,"v":0.527},
      {"s":"EXP 8x1","e":1000,"v":0.498}
    ]
  },
  "resolve": {
    "axis": {"x": "independent", "y": "independent"},
    "scale": {"color": "independent"}
  },
  "layer": [
    {
      "data": {"name": "raw"},
      "transform": [
        {"fold": ["EXP 4x4", "EXP 4x1", "EXP 6x1", "EXP 8x1"], "as": ["series", "acc"]}
      ],
      "mark": {"type": "line", "strokeWidth": 1, "opacity": 0.2, "clip": true},
      "encoding": {
        "x": {
          "field": "epoch", "type": "quantitative",
          "scale": {"domain": [0, 1000], "nice": false, "zero": false},
          "axis": {
            "orient": "bottom", "values": [0, 200, 400, 600, 800, 1000], "format": "d",
            "title": "epoch", "titleFontSize": 10, "titleFontWeight": "normal", "titleColor": "#000", "titlePadding": 8,
            "labelFontSize": 10, "labelColor": "#000", "labelPadding": 5, "labelFlush": false,
            "tickSize": -5, "tickColor": "#000", "domain": false,
            "grid": true, "gridColor": "#000", "gridDash": [1, 2], "gridOpacity": 0.5, "gridWidth": 1
          }
        },
        "y": {
          "field": "acc", "type": "quantitative",
          "scale": {"domain": [0, 0.8], "nice": false},
          "axis": {
            "orient": "left", "values": [0, 0.1, 0.2, 0.3, 0.4, 0.5, 0.6, 0.7, 0.8], "format": ".1f",
            "title": "accuracy", "titleFontSize": 10, "titleFontWeight": "normal", "titleColor": "#000", "titlePadding": 8,
            "labelFontSize": 10, "labelColor": "#000", "labelPadding": 5, "labelFlush": false,
            "tickSize": -5, "tickColor": "#000", "domain": false,
            "grid": true, "gridColor": "#000", "gridDash": [1, 2], "gridOpacity": 0.5, "gridWidth": 1
          }
        },
        "color": {
          "field": "series", "type": "nominal",
          "scale": {"domain": ["EXP 4x4", "EXP 4x1", "EXP 6x1", "EXP 8x1"], "range": ["#0000ff", "#008000", "#bfbf00", "#ff0000"]},
          "legend": null
        }
      }
    },
    {
      "data": {"name": "smooth"},
      "mark": {"type": "line", "strokeWidth": 1.2, "opacity": 0.8, "interpolate": "monotone", "clip": true},
      "encoding": {
        "x": {
          "field": "e", "type": "quantitative",
          "axis": {
            "orient": "top", "values": [0, 200, 400, 600, 800, 1000], "labels": false, "title": null,
            "tickSize": -5, "tickColor": "#000", "domain": false, "grid": false
          }
        },
        "y": {
          "field": "v", "type": "quantitative",
          "axis": {
            "orient": "right", "values": [0, 0.1, 0.2, 0.3, 0.4, 0.5, 0.6, 0.7, 0.8], "labels": false, "title": null,
            "tickSize": -5, "tickColor": "#000", "domain": false, "grid": false
          }
        },
        "color": {
          "field": "s", "type": "nominal",
          "scale": {"domain": ["EXP 4x4", "EXP 4x1", "EXP 6x1", "EXP 8x1"], "range": ["#0000ff", "#008000", "#bfbf00", "#ff0000"]},
          "legend": {
            "title": null, "orient": "none", "legendX": 280, "legendY": 214,
            "symbolType": "stroke", "symbolSize": 256, "symbolStrokeWidth": 1.2, "symbolOffset": 5,
            "symbolOpacity": 0.8,
            "labelFontSize": 11.5, "labelColor": "#000", "labelOffset": 15,
            "rowPadding": 2, "padding": 3,
            "strokeColor": "#000", "fillColor": "#fff", "cornerRadius": 0
          }
        }
      }
    }
  ]
}
